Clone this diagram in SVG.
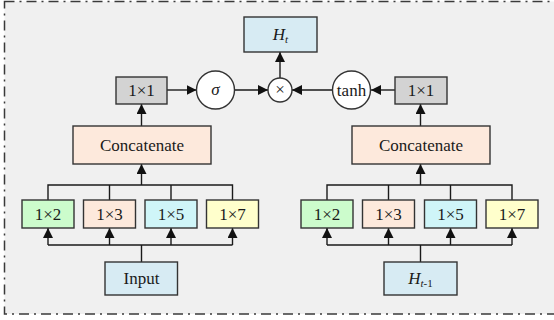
<svg xmlns="http://www.w3.org/2000/svg" width="554" height="320" viewBox="0 0 554 320" font-family="'Liberation Serif', 'DejaVu Serif', serif">
  <style>
    .frame { fill: #f0f0f0; stroke: #3a3a3a; stroke-width: 1.5; stroke-dasharray: 10 5 2 5; }
    .box { stroke: #333333; stroke-width: 1.4; }
    .gray { fill: #d3d3d3; }
    .peach { fill: #fde9dc; }
    .blue { fill: #d7ebf3; }
    .green { fill: #ccfccc; }
    .cyan { fill: #cff5f8; }
    .yellow { fill: #ffffcc; }
    .circ { fill: #ffffff; stroke: #333333; stroke-width: 1.4; }
    text { font-family: "Liberation Serif", "DejaVu Serif", serif; font-size: 17px; fill: #1a1a1a; text-anchor: middle; }
    .it { font-style: italic; }
    .wire { fill: none; stroke: #1a1a1a; stroke-width: 1.4; }
  </style>
  <defs>
    <marker id="arrow" viewBox="0 0 10 10" refX="10" refY="5" markerWidth="10" markerHeight="10" markerUnits="userSpaceOnUse" orient="auto">
      <path d="M0,0 L10,5 L0,10 z" fill="#111111"/>
    </marker>
  </defs>

  <!-- dash-dot frame -->
  <rect class="frame" x="4.5" y="1.5" width="560" height="312.5"/>

  <!-- connectors -->
  <g id="connectors">
    <!-- left branch: input fan-out -->
    <path class="wire" d="M141.5,262 V245 M48,245 H232.5"/>
    <path class="wire" d="M48,245 V228" marker-end="url(#arrow)"/>
    <path class="wire" d="M109.5,245 V228" marker-end="url(#arrow)"/>
    <path class="wire" d="M171,245 V228" marker-end="url(#arrow)"/>
    <path class="wire" d="M232.5,245 V228" marker-end="url(#arrow)"/>
    <!-- left branch: merge into concatenate -->
    <path class="wire" d="M48,200 V185 H232.5 V200 M109.5,185 V200 M171,185 V200"/>
    <path class="wire" d="M141.5,185 V164" marker-end="url(#arrow)"/>
    <path class="wire" d="M141.5,126 V104" marker-end="url(#arrow)"/>
    <path class="wire" d="M167,90 H196.5" marker-end="url(#arrow)"/>
    <path class="wire" d="M235,90 H268" marker-end="url(#arrow)"/>

    <!-- right branch: hidden-state fan-out -->
    <path class="wire" d="M420.5,262 V245 M327,245 H512"/>
    <path class="wire" d="M327,245 V228" marker-end="url(#arrow)"/>
    <path class="wire" d="M388.5,245 V228" marker-end="url(#arrow)"/>
    <path class="wire" d="M450.5,245 V228" marker-end="url(#arrow)"/>
    <path class="wire" d="M512,245 V228" marker-end="url(#arrow)"/>
    <!-- right branch: merge into concatenate -->
    <path class="wire" d="M327,200 V185 H512 V200 M388.5,185 V200 M450.5,185 V200"/>
    <path class="wire" d="M420.5,185 V164" marker-end="url(#arrow)"/>
    <path class="wire" d="M420.5,126 V104" marker-end="url(#arrow)"/>
    <path class="wire" d="M395,90 H371" marker-end="url(#arrow)"/>
    <path class="wire" d="M332,90 H292" marker-end="url(#arrow)"/>

    <!-- product to output -->
    <path class="wire" d="M280,78 V52" marker-end="url(#arrow)"/>
  </g>

  <!-- output -->
  <g id="ht">
    <rect class="box blue" x="244" y="17" width="73" height="35"/>
    <text x="280.5" y="40"><tspan class="it">H</tspan><tspan class="it" font-size="11" dy="3">t</tspan></text>
  </g>
  <g id="mul">
    <circle class="circ" cx="280" cy="90" r="12"/>
    <text x="280" y="95" font-size="14">×</text>
  </g>
  <g id="sigma">
    <circle class="circ" cx="215.5" cy="90" r="19"/>
    <text class="it" x="215.5" y="95">σ</text>
  </g>
  <g id="tanh">
    <circle class="circ" cx="351.5" cy="90" r="19"/>
    <text x="351.5" y="96">tanh</text>
  </g>

  <!-- left branch -->
  <g id="conv1x1-left">
    <rect class="box gray" x="116" y="77" width="51" height="27"/>
    <text x="141.5" y="96">1×1</text>
  </g>
  <g id="concat-left">
    <rect class="box peach" x="73" y="126" width="138" height="38"/>
    <text x="142" y="151">Concatenate</text>
  </g>
  <g id="k2-left">
    <rect class="box green" x="22" y="200" width="52" height="28"/>
    <text x="48" y="220">1×2</text>
  </g>
  <g id="k3-left">
    <rect class="box peach" x="83.5" y="200" width="52" height="28"/>
    <text x="109.5" y="220">1×3</text>
  </g>
  <g id="k5-left">
    <rect class="box cyan" x="145" y="200" width="52" height="28"/>
    <text x="171" y="220">1×5</text>
  </g>
  <g id="k7-left">
    <rect class="box yellow" x="206.5" y="200" width="52" height="28"/>
    <text x="232.5" y="220">1×7</text>
  </g>
  <g id="input">
    <rect class="box blue" x="105" y="262" width="72.5" height="33"/>
    <text x="141.5" y="284">Input</text>
  </g>

  <!-- right branch -->
  <g id="conv1x1-right">
    <rect class="box gray" x="395" y="77" width="52" height="27"/>
    <text x="421" y="96">1×1</text>
  </g>
  <g id="concat-right">
    <rect class="box peach" x="352" y="126" width="138" height="38"/>
    <text x="421" y="151">Concatenate</text>
  </g>
  <g id="k2-right">
    <rect class="box green" x="301" y="200" width="52" height="28"/>
    <text x="327" y="220">1×2</text>
  </g>
  <g id="k3-right">
    <rect class="box peach" x="362.5" y="200" width="52" height="28"/>
    <text x="388.5" y="220">1×3</text>
  </g>
  <g id="k5-right">
    <rect class="box cyan" x="424.5" y="200" width="52" height="28"/>
    <text x="450.5" y="220">1×5</text>
  </g>
  <g id="k7-right">
    <rect class="box yellow" x="486" y="200" width="52" height="28"/>
    <text x="512" y="220">1×7</text>
  </g>
  <g id="hprev">
    <rect class="box blue" x="384" y="262" width="73" height="33"/>
    <text x="420.5" y="284"><tspan class="it">H</tspan><tspan font-size="11" dy="3"><tspan class="it">t</tspan>-1</tspan></text>
  </g>
</svg>
